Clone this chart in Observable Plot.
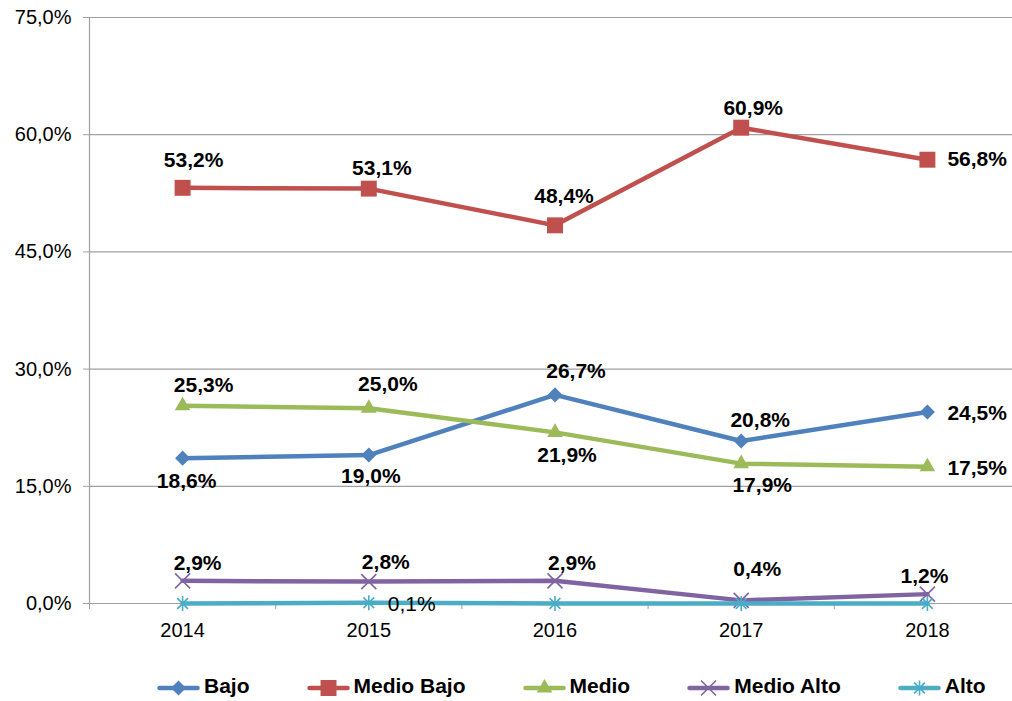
<!DOCTYPE html>
<html>
<head>
<meta charset="utf-8">
<script src="https://cdn.jsdelivr.net/npm/d3@7"></script>
<script src="https://cdn.jsdelivr.net/npm/@observablehq/plot@0.6"></script>
<style>
  body { margin: 0; background: #fff; font-family: "Liberation Sans", Arial, sans-serif; }
  #wrap { position: relative; width: 1012px; height: 701px; overflow: hidden; }
  #legend { position: absolute; top: 674px; left: 157px; display: flex; height: 24px; }
  .item { display: flex; align-items: center; height: 24px; margin-right: 57px; }
  .item svg { display: block; margin-right: 4px; }
  .item span { font-weight: bold; font-size: 21px; line-height: 24px; color: #000; white-space: nowrap; }
</style>
</head>
<body>
<div id="wrap">
  <div id="chart"></div>
  <div id="legend"></div>
</div>
<script>
// ---- data ----
const years = [2014, 2015, 2016, 2017, 2018];
const seriesNames = ["Bajo", "Medio Bajo", "Medio", "Medio Alto", "Alto"];
const bajo = [18.6, 19.0, 26.7, 20.8, 24.5];
const medioBajo = [53.2, 53.1, 48.4, 60.9, 56.8];
const medio = [25.3, 25.0, 21.9, 17.9, 17.5];
const medioAlto = [2.9, 2.8, 2.9, 0.4, 1.2];
const alto = [0.0, 0.1, 0.0, 0.0, 0.0];
const altoLabelShown = [false, true, false, false, false];
const yTicks = [0, 15, 30, 45, 60, 75];

// ---- styling / layout ----
const colors = ["#4F81BD", "#C0504D", "#9BBB59", "#8064A2", "#4BACC6"];
const grid = "#a0a0a0";
const font = "'Liberation Sans', Arial, sans-serif";
const fmt = v => v.toFixed(1).replace(".", ",") + "%";

const asterisk = {
  draw(ctx, size) {
    const r = Math.sqrt(size / Math.PI);
    const a = r * 0.72;
    ctx.moveTo(0, -r); ctx.lineTo(0, r);
    ctx.moveTo(-a, -a); ctx.lineTo(a, a);
    ctx.moveTo(-a, a); ctx.lineTo(a, -a);
  }
};
const markers = [
  {symbol: "diamond2", r: 6.8, filled: true},
  {symbol: "square", r: 9, filled: true},
  {symbol: "triangle", r: 5.8, filled: true},
  {symbol: "times", r: 6.9, filled: false},
  {symbol: asterisk, r: 7.5, filled: false}
];
// label placement per series and year: [dx, dy, anchor]
const labelPlacement = [
  [[4, 23, "middle"], [2, 21, "middle"], [21, -24, "middle"], [19, -21, "middle"], [20, 1, "start"]],
  [[11, -28, "middle"], [13, -20, "middle"], [9, -29, "middle"], [12, -19, "middle"], [20, 0, "start"]],
  [[21, -21, "middle"], [19, -24, "middle"], [12, 23, "middle"], [21, 22, "middle"], [20, 1, "start"]],
  [[15, -18, "middle"], [17, -19, "middle"], [17, -18, "middle"], [16, -31, "middle"], [-3, -18, "middle"]],
  [[19, 2, "start"], [19, 2, "start"], [19, 2, "start"], [19, 2, "start"], [19, 2, "start"]]
];

const values = [bajo, medioBajo, medio, medioAlto, alto];
const series = seriesNames.map((name, i) => ({
  name, color: colors[i], marker: markers[i],
  rows: years.map((year, j) => ({year, value: values[i][j], j}))
}));
const boundaries = [years[0] - 0.5, ...years.map(y => y + 0.5)];

const marks = [
  Plot.ruleY(yTicks, {stroke: grid, strokeWidth: 1.2}),
  Plot.ruleX([boundaries[0]], {y1: 0, y2: yTicks[yTicks.length - 1], stroke: grid, strokeWidth: 1.2}),
  Plot.axisY(yTicks, {tickSize: 6, tickPadding: 12, tickFormat: fmt, fontSize: 20, stroke: grid, fill: "#000", label: null}),
  Plot.axisX(boundaries, {tickSize: 6, tickFormat: () => "", stroke: grid, label: null}),
  Plot.axisX(years, {tickSize: 0, tickPadding: 19, tickFormat: d => String(d), fontSize: 20, fill: "#000", label: null})
];

series.forEach((s, i) => {
  marks.push(Plot.line(s.rows, {x: "year", y: "value", stroke: s.color, strokeWidth: 4.5}));
  const m = s.marker;
  marks.push(Plot.dot(s.rows, {
    x: "year", y: "value", symbol: m.symbol, r: m.r,
    fill: m.filled ? s.color : "none",
    stroke: m.filled ? "none" : s.color, strokeWidth: 1.6
  }));
});

series.forEach((s, i) => {
  s.rows.forEach((row, j) => {
    if (i === 4 && !altoLabelShown[j]) return;
    const [dx, dy, anchor] = labelPlacement[i][j];
    marks.push(Plot.text([row], {
      x: "year", y: "value", text: d => fmt(d.value),
      dx, dy, textAnchor: anchor,
      fontSize: 21, fontWeight: i === 4 ? "normal" : "bold", fill: "#000"
    }));
  });
});

const chart = Plot.plot({
  width: 1012,
  height: 640,
  marginLeft: 89,
  marginRight: 0,
  marginTop: 17,
  marginBottom: 37,
  style: {fontFamily: font, background: "#fff", overflow: "visible"},
  x: {type: "linear", domain: [boundaries[0], boundaries[boundaries.length - 1]], range: [89, 1020]},
  y: {domain: [0, 75], range: [603, 17]},
  marks
});
document.getElementById("chart").appendChild(chart);

// ---- legend ----
const legend = d3.select("#legend");
series.forEach(s => {
  const item = legend.append("div").attr("class", "item");
  const svg = item.append("svg").attr("width", 43).attr("height", 24);
  svg.append("line").attr("x1", 2.5).attr("x2", 40.5).attr("y1", 14).attr("y2", 14)
    .attr("stroke", s.color).attr("stroke-width", 4.5).attr("stroke-linecap", "round");
  const sym = typeof s.marker.symbol === "string" ? Plot.symbol?.(s.marker.symbol) ?? null : s.marker.symbol;
  const symMap = {diamond2: d3.symbolDiamond2, square: d3.symbolSquare, triangle: d3.symbolTriangle, times: d3.symbolTimes};
  const symType = typeof s.marker.symbol === "string" ? symMap[s.marker.symbol] : s.marker.symbol;
  const size = Math.PI * s.marker.r * s.marker.r;
  svg.append("path").attr("transform", "translate(21.5,14)")
    .attr("d", d3.symbol(symType, size)())
    .attr("fill", s.marker.filled ? s.color : "none")
    .attr("stroke", s.marker.filled ? "none" : s.color)
    .attr("stroke-width", 1.6);
  item.append("span").text(s.name);
});
</script>
</body>
</html>
